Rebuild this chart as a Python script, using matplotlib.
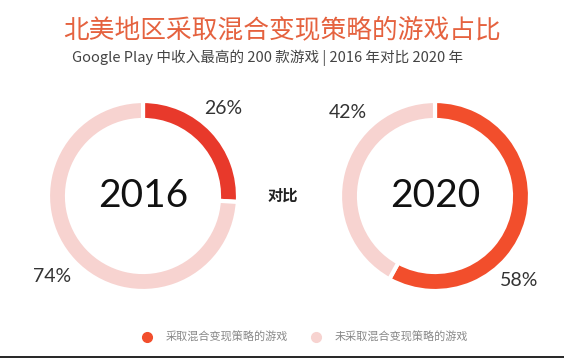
import matplotlib.pyplot as plt
from matplotlib.lines import Line2D

plt.rcParams['font.family'] = ['Noto Sans CJK SC', 'DejaVu Sans']

# data
years = ['2016', '2020']
adopted = [26, 58]
not_adopted = [74, 42]
series_names = ['采取混合变现策略的游戏', '未采取混合变现策略的游戏']
title = '北美地区采取混合变现策略的游戏占比'
subtitle = 'Google Play 中收入最高的 200 款游戏 | 2016 年对比 2020 年'
middle_text = '对比'

W, H = 564, 358
red_cols = ['#E8392B', '#F24E2C']
pale = '#F7D3D0'

fig = plt.figure(figsize=(W / 100, H / 100), dpi=100)
ax = fig.add_axes([0, 0, 1, 1])

centers = [(143, H - 196), (435, H - 196)]
radius = 95
# label positions (pixel coords, y from top)
lab_pos = [[(223, 109), (52, 277)], [(519, 280), (348, 113)]]

for i, yr in enumerate(years):
    vals = [adopted[i], not_adopted[i]]
    ax.pie(vals, colors=[red_cols[i], pale], startangle=90, counterclock=False,
           center=centers[i], radius=radius, frame=True,
           wedgeprops=dict(width=19, edgecolor='white', linewidth=3))
    ax.text(centers[i][0], centers[i][1], yr, ha='center', va='center',
            fontsize=28, family=['Lato', 'DejaVu Sans'], color='#111111')
    (x1, y1), (x2, y2) = lab_pos[i]
    ax.text(x1, H - y1, f'{vals[0]}%', ha='center', va='center', fontsize=14,
            family=['Lato', 'DejaVu Sans'], color='#333333')
    ax.text(x2, H - y2, f'{vals[1]}%', ha='center', va='center', fontsize=14,
            family=['Lato', 'DejaVu Sans'], color='#333333')

ax.text(283, H - 196, middle_text, ha='center', va='center', fontsize=11,
        fontweight='bold', color='#222222')

ax.text(282, H - 30, title, ha='center', va='center', fontsize=18.5,
        color='#E5623F')
ax.text(268, H - 58, subtitle, ha='center', va='center', fontsize=10.5,
        fontweight='medium', color='#444444')

handles = [Line2D([], [], marker='o', ls='', color=c, markersize=7)
           for c in [red_cols[1], pale]]
ax.legend(handles, series_names, loc='center', bbox_to_anchor=(302 / W, 1 - 337 / H),
          ncol=2, frameon=False, fontsize=8, labelcolor='#888888',
          handletextpad=0.6, columnspacing=1.6)

ax.axhline(1, color='black', lw=1.2)

ax.set_xlim(0, W)
ax.set_ylim(0, H)
ax.set_aspect('equal')
ax.axis('off')

fig.savefig('out.png', dpi=100, facecolor='white')
